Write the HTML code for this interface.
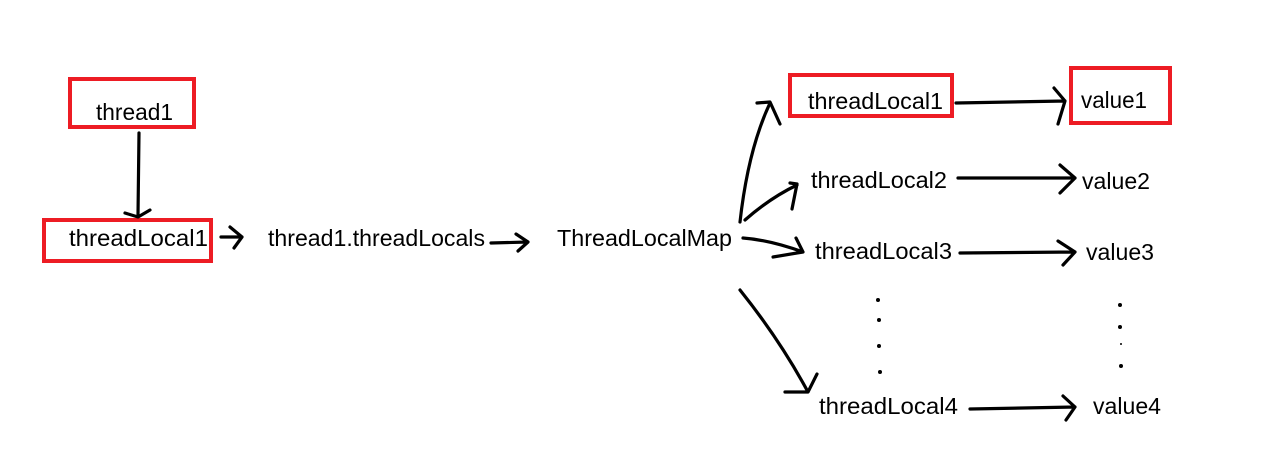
<!DOCTYPE html>
<html><head><meta charset="utf-8"><style>
html,body{margin:0;padding:0;background:#fff;}
svg{display:block}
text{font-family:"Liberation Sans",sans-serif;font-size:23px;fill:#000}
</style></head><body>
<svg width="1276" height="473" viewBox="0 0 1276 473" xmlns="http://www.w3.org/2000/svg">
<g fill="none" stroke="#ed1c24" stroke-width="4">
<rect x="70" y="79" width="124" height="48"/>
<rect x="44" y="220" width="167" height="41"/>
<rect x="790" y="75" width="162" height="41"/>
<rect x="1071" y="68" width="99" height="55"/>
</g>
<text x="96" y="120" textLength="77" lengthAdjust="spacingAndGlyphs">thread1</text>
<text x="69" y="246" textLength="139" lengthAdjust="spacingAndGlyphs">threadLocal1</text>
<text x="268" y="246" textLength="217" lengthAdjust="spacingAndGlyphs">thread1.threadLocals</text>
<text x="557" y="246" textLength="175" lengthAdjust="spacingAndGlyphs">ThreadLocalMap</text>
<text x="808" y="109" textLength="135" lengthAdjust="spacingAndGlyphs">threadLocal1</text>
<text x="1081" y="108" textLength="66" lengthAdjust="spacingAndGlyphs">value1</text>
<text x="811" y="188" textLength="136" lengthAdjust="spacingAndGlyphs">threadLocal2</text>
<text x="1082" y="189" textLength="68" lengthAdjust="spacingAndGlyphs">value2</text>
<text x="815" y="259" textLength="137" lengthAdjust="spacingAndGlyphs">threadLocal3</text>
<text x="1086" y="260" textLength="68" lengthAdjust="spacingAndGlyphs">value3</text>
<text x="819" y="414" textLength="139" lengthAdjust="spacingAndGlyphs">threadLocal4</text>
<text x="1093" y="414" textLength="68" lengthAdjust="spacingAndGlyphs">value4</text>
<g fill="none" stroke="#000" stroke-width="3.2" stroke-linecap="round" stroke-linejoin="round">
<path d="M139 133 L138 215 M125 213 L138 217 L150 210"/>
<path d="M221 237 L242 237 M230 227 L242 237 L234 248"/>
<path d="M491 243 L528 242 M516 234 L528 242 L518 251"/>
<path d="M740 222 Q748 150 770 103 M757 103 L770 102 L780 124"/>
<path d="M745 220 Q770 198 797 185 M790 183 L797 184 L792 209"/>
<path d="M743 238 Q770 240 803 252 M796 238 L803 252 M773 257 L803 252"/>
<path d="M740 290 Q780 340 808 392 M785 392 L808 392 L817 374"/>
<path d="M956 103 L1065 101 M1054 88 L1065 101 L1058 124"/>
<path d="M958 178 L1075 178 M1060 165 L1075 178 L1060 193"/>
<path d="M960 253 L1075 252 M1058 241 L1075 252 L1063 265"/>
<path d="M970 409 L1075 407 M1063 396 L1075 407 L1066 420"/>
</g>
<g fill="#000">
<circle cx="878" cy="300" r="2"/><circle cx="879" cy="320" r="2"/><circle cx="879" cy="346" r="2"/><circle cx="880" cy="372" r="2"/>
<circle cx="1120" cy="305" r="2"/><circle cx="1120" cy="327" r="2"/><circle cx="1121" cy="344" r="1"/><circle cx="1121" cy="366" r="2"/>
</g>
</svg>
</body></html>
